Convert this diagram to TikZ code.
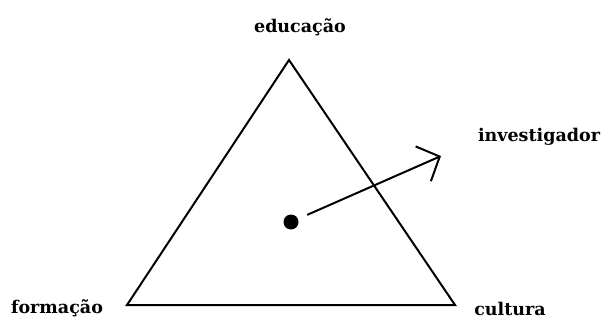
\documentclass[tikz,border=0pt]{standalone}
\usepackage{fontspec}
\setmainfont{DejaVu Serif}
\usetikzlibrary{arrows.meta}

\begin{document}
\begin{tikzpicture}[x=1pt, y=-1pt,
      side/.style={line width=2pt},
      lbl/.style={font=\fontsize{17.5}{20}\selectfont\bfseries, inner sep=0pt},
      >={Straight Barb[length=18pt, width=38pt, line width=2pt]}]
    \useasboundingbox (0,0) rectangle (603,321);
    \coordinate (top) at (289,60);
    \coordinate (left) at (127,305);
    \coordinate (right) at (455,305);
    \node[lbl] (edu) at (300,27) {educação};
    \node[lbl] (form) at (57,308) {formação};
    \node[lbl] (cult) at (510,309) {cultura};
    \node[lbl] (invlbl) at (539,137) {investigador};
    \draw[side] (top) -- (left) -- (right) -- cycle;
    \node[circle, fill, minimum size=15pt, inner sep=0pt] (inv) at (291,222) {};
    \coordinate (tip) at (441,156);
    \draw[side, ->, shorten <=10pt] (inv) -- (tip);
  \end{tikzpicture}
\end{document}
